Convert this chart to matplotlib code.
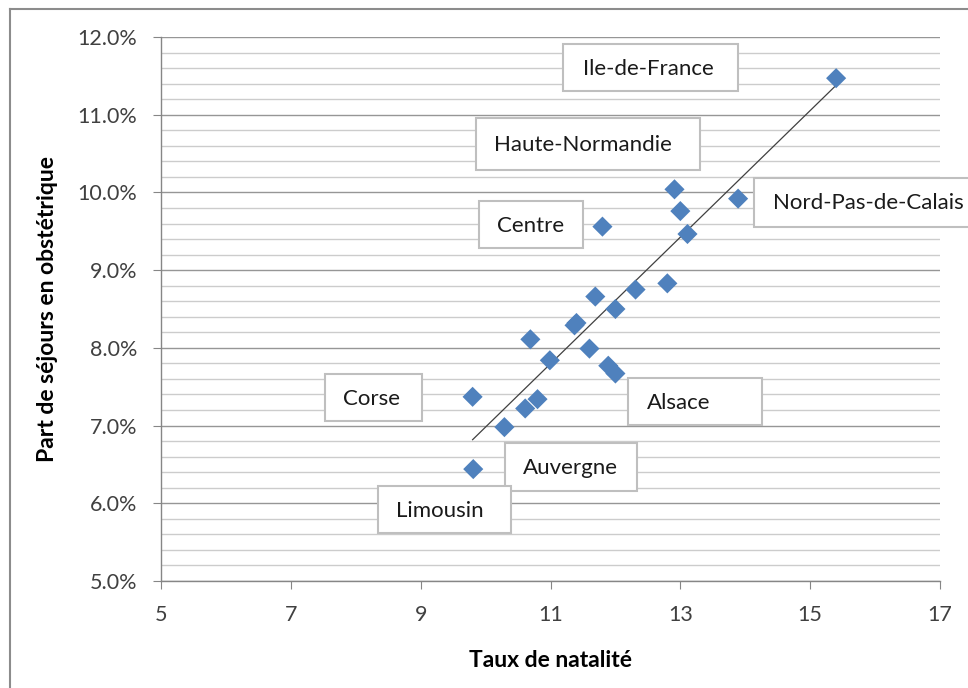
import numpy as np
import matplotlib.pyplot as plt
from matplotlib.patches import Rectangle
from matplotlib.lines import Line2D
from matplotlib.ticker import MultipleLocator, FuncFormatter

# Données : taux de natalité vs part de séjours en obstétrique (%)
taux_natalite = [15.40, 13.89, 12.91, 13.00, 13.11, 11.80, 12.80, 12.31, 11.69, 12.00, 11.40,
                 11.37, 10.69, 11.60, 10.99, 11.89, 12.00, 9.80, 10.80, 10.61, 10.29, 9.81]
part_obstetrique = [11.47, 9.92, 10.04, 9.76, 9.465, 9.56, 8.83, 8.75, 8.66, 8.50, 8.32,
                    8.29, 8.11, 7.99, 7.84, 7.77, 7.67, 7.37, 7.34, 7.22, 6.98, 6.44]
x_ticks = [5, 7, 9, 11, 13, 15, 17]

# Étiquettes des régions
regions = ['Ile-de-France', 'Haute-Normandie', 'Nord-Pas-de-Calais', 'Centre',
           'Corse', 'Alsace', 'Auvergne', 'Limousin']

# Mise en page des étiquettes : (gauche, droite, bas, haut) du cadre, début du texte, centre vertical
cadres = [(11.193, 13.888, 11.305, 11.910), (9.852, 13.303, 10.289, 10.958),
          (14.135, 17.60, 9.555, 10.186), (9.899, 11.501, 9.285, 9.890),
          (7.526, 9.021, 7.059, 7.663), (12.194, 14.258, 7.007, 7.612),
          (10.299, 12.333, 6.158, 6.775), (8.343, 10.392, 5.617, 6.222)]
textes_x = [11.50, 10.13, 14.43, 10.176, 7.804, 12.487, 10.576, 8.620]
textes_y = [11.59, 10.61, 9.867, 9.571, 7.344, 7.293, 6.457, 5.903]

plt.rcParams['font.family'] = ['Lato', 'DejaVu Sans']

fig = plt.figure(figsize=(9.68, 6.88), dpi=100)
ax = fig.add_axes([161 / 968, 1 - 581 / 688, (940 - 161) / 968, (581 - 37) / 688])

# Grille horizontale (principale + secondaire)
ax.yaxis.set_major_locator(MultipleLocator(1.0))
ax.yaxis.set_minor_locator(MultipleLocator(0.2))
ax.set_xticks(x_ticks)
ax.grid(True, which='minor', axis='y', color='#cccccc', linewidth=1.0, zorder=0)
ax.grid(True, which='major', axis='y', color='#969696', linewidth=1.0, zorder=0)
ax.set_axisbelow(True)

# Nuage de points
ax.scatter(taux_natalite, part_obstetrique, marker='D', s=105, color='#4F81BD',
           edgecolors='none', zorder=4)

# Courbe de tendance linéaire
x = np.array(taux_natalite)
y = np.array(part_obstetrique)
pente, ordonnee = np.polyfit(x, y, 1)
xt = np.array([x.min(), x.max()])
ax.plot(xt, pente * xt + ordonnee, color='#404040', linewidth=0.9, zorder=3)

# Étiquettes encadrées
for nom, (g, d, b, h), tx, ty in zip(regions, cadres, textes_x, textes_y):
    ax.add_patch(Rectangle((g, b), d - g, h - b, facecolor='white', edgecolor='#bfbfbf',
                           linewidth=1.5, zorder=5, clip_on=False))
    ax.text(tx, ty, nom, ha='left', va='center', fontsize=16, color='#1a1a1a',
            zorder=6, clip_on=False)

ax.set_xlim(5, 17)
ax.set_ylim(5, 12)
ax.yaxis.set_major_formatter(FuncFormatter(lambda v, p: f'{v:.1f}%'))

for s in ['top', 'right']:
    ax.spines[s].set_visible(False)
for s in ['left', 'bottom']:
    ax.spines[s].set_color('#868686')
    ax.spines[s].set_linewidth(1.0)

ax.tick_params(axis='both', which='major', length=6, color='#868686', labelsize=15.5,
               labelcolor='#404040', direction='out', pad=11)
ax.tick_params(axis='y', which='minor', length=0)

ax.set_xlabel('Taux de natalité', fontsize=16.5, fontweight='bold')
ax.set_ylabel('Part de séjours en obstétrique', fontsize=16.5, fontweight='bold')
ax.xaxis.set_label_coords(0.5, (581 - 650) / 544)
ax.yaxis.set_label_coords((58 - 161) / 779, 0.5)

# Cadre extérieur du graphique (coupé à droite et en bas)
fig.add_artist(Line2D([10 / 968, 10 / 968], [0, 1 - 9 / 688], color='#8c8c8c', linewidth=1.5))
fig.add_artist(Line2D([10 / 968, 1], [1 - 9 / 688, 1 - 9 / 688], color='#8c8c8c', linewidth=1.5))

plt.savefig('out.png', dpi=100)
